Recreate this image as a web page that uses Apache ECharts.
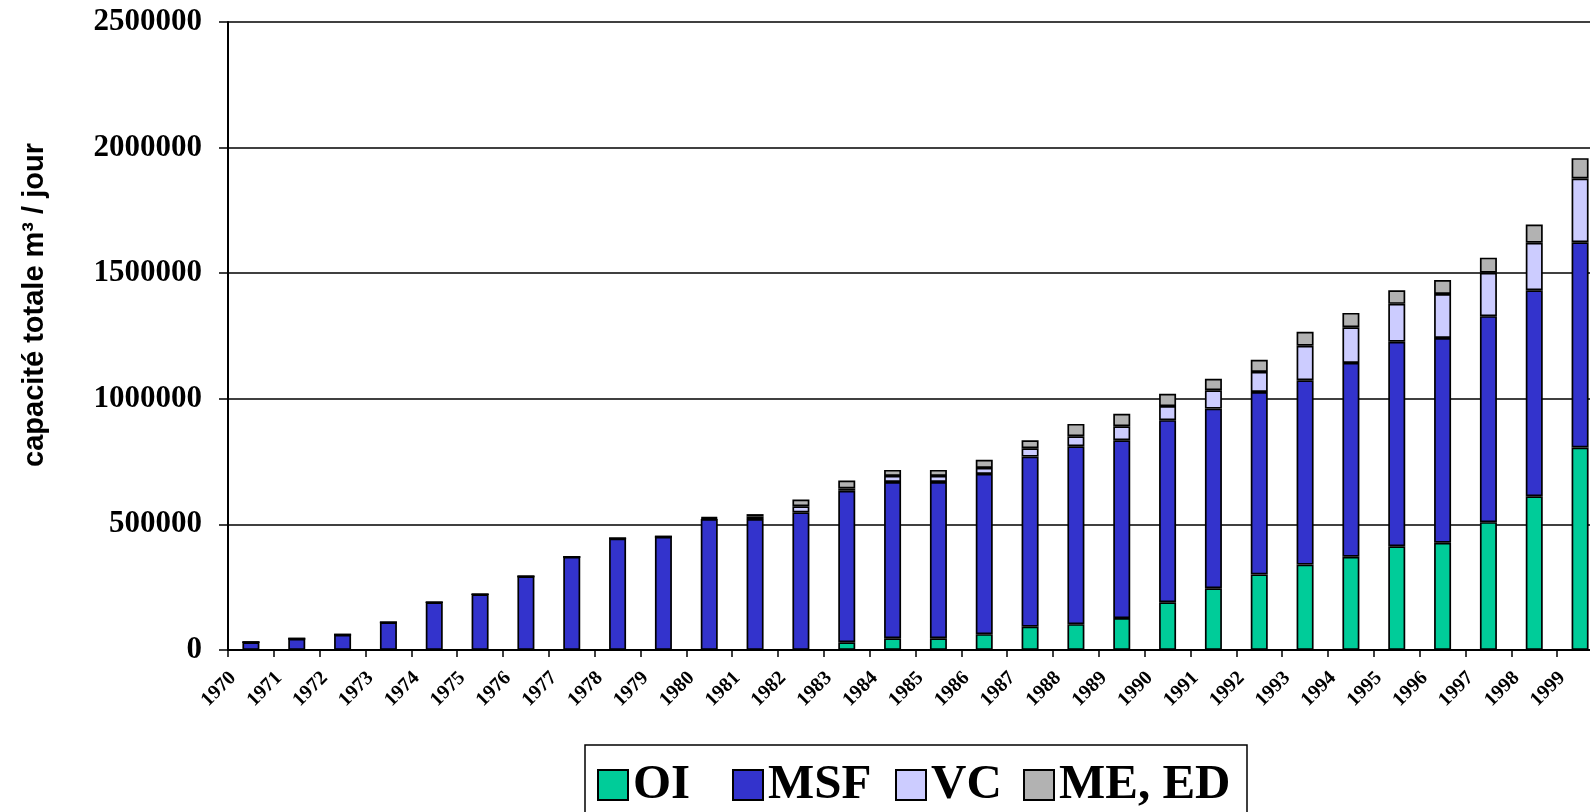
<!DOCTYPE html>
<html>
<head>
<meta charset="utf-8">
<script src="https://cdn.jsdelivr.net/npm/echarts@6/dist/echarts.min.js"></script>
<style>
html,body{margin:0;padding:0;background:#fff;overflow:hidden;}
#chart{width:1620px;height:812px;}
</style>
</head>
<body>
<div id="chart"></div>
<script>
const years = ['1970','1971','1972','1973','1974','1975','1976','1977','1978','1979',
               '1980','1981','1982','1983','1984','1985','1986','1987','1988','1989',
               '1990','1991','1992','1993','1994','1995','1996','1997','1998','1999'];
const oi  = [0,0,0,0,0,0,0,0,0,0,
             0,0,0,31000,47000,47000,63000,93000,103000,127000,
             190000,246000,301000,340000,371000,413000,427000,509000,612000,806000];
const msf = [31000,45000,61000,110000,190000,222000,293000,371000,444000,451000,
             521000,521000,548000,603000,622000,622000,638000,677000,708000,708000,
             725000,715000,726000,734000,772000,814000,815000,820000,820000,817000];
const vc  = [0,0,0,0,0,0,0,0,0,0,
             4000,10000,24000,9000,24000,24000,24000,33000,40000,56000,
             56000,73000,80000,137000,142000,151000,175000,173000,189000,254000];
const me  = [0,0,0,0,0,0,0,0,0,0,
             4000,10000,27000,32000,24000,24000,32000,32000,49000,49000,
             49000,46000,48000,56000,57000,54000,56000,60000,73000,81000];
const seriesNames = ['OI','MSF','VC','ME, ED'];
const seriesColors = ['#00CC99','#3333CC','#CCCCFF','#B2B2B2'];
const yTickValues = [0,500000,1000000,1500000,2000000,2500000];
const yAxisTitle = 'capacité totale m³ / jour';

const chart = echarts.init(document.getElementById('chart'), null, {renderer:'canvas'});
const serif = 'Liberation Serif, Times New Roman, serif';
const dataSets = [oi, msf, vc, me];
const legendLefts = [597, 732, 895, 1023];

const option = {
  animation:false,
  backgroundColor:'#fff',
  grid:[
    {left:228, top:22, width:1375, height:628, containLabel:false},
    {left:233, top:22, width:1375, height:628, containLabel:false}
  ],
  xAxis:[{
    type:'category', gridIndex:0, data:years, boundaryGap:true,
    axisLine:{show:true, lineStyle:{color:'#000', width:2}},
    axisTick:{show:true, inside:false, length:7, lineStyle:{color:'#000', width:1.5}},
    axisLabel:{show:false},
    splitLine:{show:false}
  },{
    type:'category', gridIndex:1, data:years.concat(['']), boundaryGap:false, position:'bottom', offset:0,
    axisLine:{show:false}, axisTick:{show:false}, splitLine:{show:false},
    axisLabel:{show:true, interval:0, rotate:45, margin:25,
      fontFamily:serif, fontWeight:'bold', fontSize:20, color:'#000'}
  }],
  yAxis:[{
    type:'value', gridIndex:0, min:yTickValues[0], max:yTickValues[yTickValues.length-1], interval:500000,
    axisLine:{show:true, lineStyle:{color:'#000', width:2}},
    axisTick:{show:true, inside:false, length:9, lineStyle:{color:'#000', width:1.5}},
    axisLabel:{margin:26, fontFamily:serif, fontWeight:'bold', fontSize:31, color:'#000',
      formatter:function(v){return String(v);}},
    splitLine:{show:true, lineStyle:{color:'#000', width:1.5}}
  },{
    type:'value', gridIndex:1, min:0, max:2500000, show:false,
    axisLine:{show:false}, axisTick:{show:false}, axisLabel:{show:false}, splitLine:{show:false}
  }],
  legend: seriesNames.map(function(n,i){
    return {
      data:[n], left:legendLefts[i], top:758, orient:'horizontal', padding:0,
      icon:'rect', itemWidth:30, itemHeight:30, selectedMode:false,
      textStyle:{fontFamily:serif, fontWeight:'bold', fontSize:49, lineHeight:54, color:'#000'}
    };
  }),
  graphic:[
    {type:'rect', z:0, silent:true,
     shape:{x:585, y:745, width:662, height:120},
     style:{fill:'none', stroke:'#000', lineWidth:1.5}},
    {type:'text', silent:true, x:35, y:305, rotation:Math.PI/2,
     style:{text:yAxisTitle, fontFamily:'Liberation Sans, Arial, sans-serif', fontWeight:'bold',
       fontSize:29, fill:'#000', align:'center', verticalAlign:'middle',
       textAlign:'center', textVerticalAlign:'middle'}}
  ],
  series: seriesNames.map(function(n,i){
    return {
      name:n, type:'bar', stack:'total', xAxisIndex:0, yAxisIndex:0,
      data:dataSets[i], barWidth:17,
      itemStyle:{color:seriesColors[i], borderColor:'#000', borderWidth:1.7},
      emphasis:{disabled:true}
    };
  })
};
chart.setOption(option);
</script>
</body>
</html>
